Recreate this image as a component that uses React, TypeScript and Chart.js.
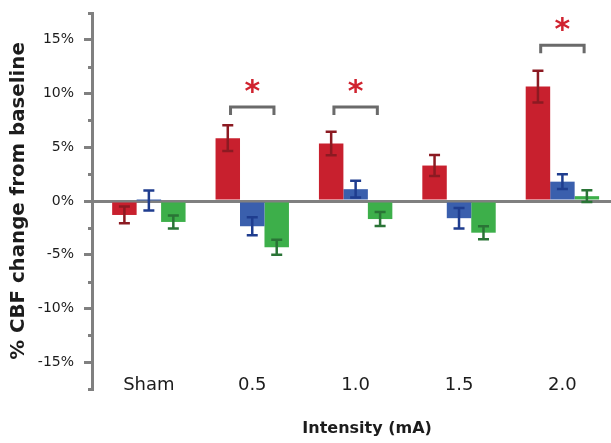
import React, { useEffect, useRef } from 'react';
import { Chart, registerables } from 'chart.js';

Chart.register(...registerables);

// ---- data ----
const categories = ['Sham', '0.5', '1.0', '1.5', '2.0'];
const seriesNames = ['Series 1', 'Series 2', 'Series 3'];
const redValues = [-1.3, 5.85, 5.35, 3.3, 10.65];
const redErrors = [0.78, 1.2, 1.1, 0.98, 1.48];
const blueValues = [0.05, -2.35, 1.1, -1.6, 1.8];
const blueErrors = [0.93, 0.83, 0.78, 0.95, 0.68];
const greenValues = [-1.95, -4.3, -1.68, -2.95, 0.45];
const greenErrors = [0.6, 0.7, 0.65, 0.6, 0.54];
const yTickValues = [-15, -10, -5, 0, 5, 10, 15];
const sigCategories = ['0.5', '1.0', '2.0'];
const sigLevels = [8.75, 8.75, 14.5];

const allValues = [redValues, blueValues, greenValues];
const allErrors = [redErrors, blueErrors, greenErrors];
const barColors = ['#c8202e', '#3a5fad', '#3daf4a'];
const errColors = ['#8c1a22', '#1f3d8f', '#2a7436'];
const axisGray = '#808080';
const textColor = '#1c1c1c';
const FONT = '"DejaVu Sans", sans-serif';

const overlayPlugin = {
  id: 'overlay',
  afterDatasetsDraw(chart: any) {
    const ctx = chart.ctx;
    const ys = chart.scales.y;
    allValues.forEach((vals, di) => {
      const meta = chart.getDatasetMeta(di);
      meta.data.forEach((bar: any, i: number) => {
        const v = vals[i];
        const e = allErrors[di][i];
        const x = bar.x;
        const yt = ys.getPixelForValue(v + e);
        const yb = ys.getPixelForValue(v - e);
        ctx.save();
        ctx.strokeStyle = errColors[di];
        ctx.lineWidth = 2.5;
        ctx.lineCap = 'butt';
        ctx.beginPath();
        ctx.moveTo(x, yt);
        ctx.lineTo(x, yb);
        ctx.moveTo(x - 5.5, yt);
        ctx.lineTo(x + 5.5, yt);
        ctx.moveTo(x - 5.5, yb);
        ctx.lineTo(x + 5.5, yb);
        ctx.stroke();
        ctx.restore();
      });
    });
  },
  afterDraw(chart: any) {
    const ctx = chart.ctx;
    const ys = chart.scales.y;
    const xs = chart.scales.x;
    const area = chart.chartArea;
    ctx.save();
    // minor ticks
    ctx.strokeStyle = axisGray;
    ctx.lineWidth = 3;
    ys.ticks.forEach((t: any) => {
      if (!yTickValues.includes(t.value)) {
        const y = Math.round(ys.getPixelForValue(t.value)) + 0.5;
        ctx.beginPath();
        ctx.moveTo(area.left - 4, y);
        ctx.lineTo(area.left, y);
        ctx.stroke();
      }
    });
    // significance brackets
    const unit = xs.getPixelForValue(1) - xs.getPixelForValue(0);
    sigCategories.forEach((c, k) => {
      const idx = categories.indexOf(c);
      const cx = xs.getPixelForValue(idx);
      const half = unit * 0.21;
      const top = ys.getPixelForValue(sigLevels[k]);
      ctx.strokeStyle = '#6a6a6a';
      ctx.lineWidth = 3;
      ctx.lineJoin = 'miter';
      ctx.beginPath();
      ctx.moveTo(cx - half, top + 8);
      ctx.lineTo(cx - half, top);
      ctx.lineTo(cx + half, top);
      ctx.lineTo(cx + half, top + 8);
      ctx.stroke();
      ctx.fillStyle = '#d0232f';
      ctx.font = 'bold 30px ' + FONT;
      ctx.textAlign = 'center';
      ctx.textBaseline = 'alphabetic';
      const m = ctx.measureText('*');
      const gy = top - 21;
      ctx.fillText('*', cx, gy + (m.actualBoundingBoxAscent - m.actualBoundingBoxDescent) / 2);
    });
    // x axis title
    ctx.fillStyle = textColor;
    ctx.font = 'bold 16px ' + FONT;
    ctx.textAlign = 'center';
    ctx.textBaseline = 'middle';
    ctx.fillText('Intensity (mA)', area.left + (area.right - area.left) * 0.53, 429);
    ctx.restore();
  },
};

export default function App() {
  const ref = useRef<HTMLCanvasElement | null>(null);
  useEffect(() => {
    if (!ref.current) return;
    const datasets = allValues.map((vals, di) => ({
      label: seriesNames[di],
      data: vals.map((v, i) => ({ x: i, y: v })),
      backgroundColor: barColors[di],
      borderWidth: 0,
      categoryPercentage: 0.71,
      barPercentage: 1,
    }));
    const chart = new Chart(ref.current, {
      type: 'bar',
      data: { datasets },
      plugins: [overlayPlugin],
      options: {
        animation: false,
        responsive: false,
        layout: { padding: { top: 13, left: 0, right: 0, bottom: 0 } },
        plugins: { legend: { display: false }, tooltip: { enabled: false } },
        scales: {
          x: {
            type: 'linear',
            min: -0.55,
            max: 4.47,
            offset: false,
            afterFit: (s: any) => {
              s.height = 54;
              s.paddingLeft = 0;
              s.paddingRight = 0;
              s.paddingTop = 0;
              s.paddingBottom = 0;
            },
            afterBuildTicks: (s: any) => { s.ticks = categories.map((_, i) => ({ value: i })); },
            grid: { display: false, drawTicks: false, offset: false },
            border: { display: false },
            ticks: {
              autoSkip: false,
              maxRotation: 0,
              mirror: true,
              padding: -7,
              color: textColor,
              font: { family: FONT, size: 18 },
              callback: (v: any) => categories[v] ?? '',
            },
          },
          y: {
            min: -17.5,
            max: 17.5,
            afterFit: (s: any) => {
              s.width = 92;
              s.paddingTop = 0;
              s.paddingBottom = 0;
              s.paddingLeft = 0;
              s.paddingRight = 0;
            },
            border: { display: true, color: axisGray, width: 3 },
            grid: {
              color: (c: any) => (c.tick && c.tick.value === 0 ? axisGray : 'rgba(0,0,0,0)'),
              lineWidth: 3,
              tickColor: (c: any) => (c.tick && yTickValues.includes(c.tick.value) ? axisGray : 'rgba(0,0,0,0)'),
              tickLength: 8,
              tickWidth: 3,
              drawTicks: true,
            },
            ticks: {
              stepSize: 2.5,
              maxTicksLimit: 20,
              padding: 10,
              color: textColor,
              font: { family: FONT, size: 14 },
              callback: (v: any) => (yTickValues.includes(v) ? v + '%' : ''),
            },
            title: {
              display: true,
              text: '% CBF change from baseline',
              color: textColor,
              font: { family: FONT, size: 19.8, weight: 'bold' },
              padding: { top: 7, bottom: 0 },
            },
          },
        },
      } as any,
    });
    return () => chart.destroy();
  }, []);
  return (
    <canvas
      ref={ref}
      width={611}
      height={443}
      style={{ position: 'fixed', left: 0, top: 0, width: 611, height: 443 }}
    />
  );
}
